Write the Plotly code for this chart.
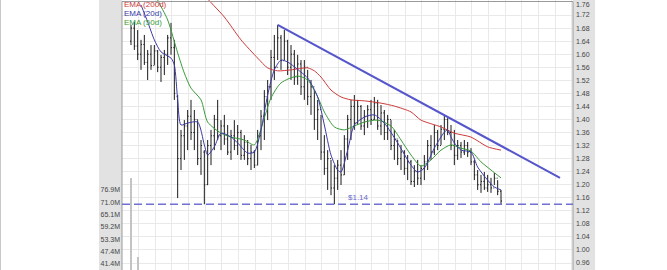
import plotly.graph_objects as go

# ---- price bars (daily) ----
bar_idx = list(range(112))
high = [1.690,1.699,1.674,1.644,1.659,1.613,1.628,1.628,1.613,1.598,
        1.613,1.659,1.696,1.644,1.475,1.368,1.398,1.429,1.460,1.429,
        1.398,1.337,1.306,1.337,1.368,1.414,1.460,1.398,1.414,1.383,
        1.368,1.398,1.383,1.368,1.352,1.337,1.322,1.306,1.368,1.429,
        1.490,1.521,1.613,1.659,1.690,1.659,1.674,1.644,1.628,1.613,
        1.598,1.582,1.582,1.552,1.521,1.490,1.460,1.414,1.352,1.306,
        1.276,1.260,1.276,1.306,1.352,1.414,1.460,1.475,1.460,1.444,
        1.429,1.444,1.460,1.469,1.460,1.444,1.429,1.414,1.398,1.368,
        1.337,1.322,1.306,1.291,1.276,1.260,1.276,1.260,1.291,1.337,
        1.352,1.383,1.368,1.383,1.414,1.404,1.383,1.368,1.337,1.331,
        1.337,1.331,1.312,1.276,1.245,1.230,1.239,1.230,1.221,1.236,
        1.214,1.184]
low = [1.628,1.613,1.582,1.552,1.567,1.521,1.552,1.567,1.545,1.515,
       1.536,1.567,1.598,1.460,1.159,1.245,1.276,1.306,1.337,1.306,
       1.260,1.230,1.140,1.199,1.260,1.306,1.337,1.306,1.322,1.291,
       1.276,1.306,1.291,1.276,1.276,1.260,1.245,1.251,1.260,1.306,
       1.337,1.398,1.460,1.521,1.582,1.552,1.582,1.536,1.521,1.506,
       1.506,1.475,1.460,1.444,1.414,1.368,1.337,1.276,1.230,1.184,
       1.168,1.140,1.184,1.199,1.230,1.276,1.337,1.368,1.383,1.368,
       1.352,1.374,1.383,1.398,1.368,1.352,1.337,1.337,1.306,1.276,
       1.260,1.245,1.230,1.214,1.199,1.193,1.199,1.199,1.214,1.245,
       1.276,1.291,1.306,1.322,1.337,1.352,1.306,1.260,1.276,1.282,
       1.291,1.285,1.260,1.214,1.184,1.175,1.184,1.178,1.175,1.199,
       1.168,1.140]
open_ = [1.640,1.680,1.625,1.600,1.630,1.575,1.600,1.565,1.610,1.560,
         1.590,1.600,1.650,1.620,1.470,1.280,1.350,1.380,1.410,1.360,
         1.400,1.280,1.300,1.200,1.320,1.350,1.400,1.350,1.380,1.340,
         1.300,1.350,1.320,1.360,1.290,1.330,1.280,1.300,1.260,1.350,
         1.410,1.470,1.500,1.590,1.560,1.650,1.580,1.640,1.560,1.600,
         1.530,1.570,1.500,1.560,1.470,1.500,1.400,1.430,1.300,1.250,
         1.280,1.190,1.220,1.260,1.230,1.340,1.400,1.440,1.390,1.440,
         1.380,1.410,1.430,1.400,1.450,1.380,1.420,1.360,1.400,1.320,
         1.340,1.280,1.300,1.250,1.270,1.210,1.240,1.220,1.250,1.270,
         1.320,1.300,1.360,1.320,1.370,1.400,1.360,1.320,1.290,1.320,
         1.300,1.320,1.300,1.270,1.230,1.200,1.210,1.190,1.200,1.190,
         1.220,1.180]
close = [1.680,1.625,1.600,1.630,1.575,1.600,1.565,1.610,1.560,1.590,
         1.600,1.650,1.620,1.480,1.280,1.350,1.380,1.410,1.360,1.400,
         1.280,1.320,1.200,1.320,1.350,1.400,1.350,1.380,1.340,1.300,
         1.350,1.320,1.360,1.290,1.330,1.280,1.300,1.260,1.350,1.410,
         1.470,1.500,1.590,1.560,1.650,1.580,1.640,1.560,1.600,1.530,
         1.570,1.500,1.560,1.470,1.500,1.400,1.430,1.300,1.250,1.280,
         1.190,1.220,1.260,1.230,1.340,1.400,1.440,1.390,1.440,1.380,
         1.410,1.430,1.400,1.450,1.380,1.420,1.360,1.400,1.320,1.340,
         1.280,1.300,1.250,1.270,1.210,1.240,1.220,1.250,1.270,1.320,
         1.300,1.360,1.320,1.370,1.400,1.360,1.320,1.290,1.320,1.300,
         1.320,1.300,1.270,1.230,1.200,1.210,1.190,1.200,1.190,1.220,
         1.180,1.150]

# ---- moving averages ----
ema200_idx = [20,22,28,33,38,41,44,48,53,55,57,60,63,66,70,75,79,84,87,93,97,102,107,111]
ema200 = [1.812,1.781,1.714,1.644,1.588,1.558,1.549,1.552,1.558,1.549,1.530,1.490,
          1.469,1.460,1.457,1.450,1.441,1.423,1.398,1.377,1.358,1.346,1.316,1.306]
ema20_idx = [3,5,7,9,12,13,14,15,17,20,22,23,25,27,30,32,35,37,39,41,43,45,47,51,53,
             56,58,60,62,63,65,67,70,73,76,80,84,86,88,91,94,95,96,97,99,102,104,107,109,111]
ema20 = [1.751,1.699,1.644,1.607,1.588,1.567,1.460,1.383,1.389,1.392,1.322,1.291,1.316,
         1.358,1.346,1.328,1.297,1.300,1.368,1.475,1.552,1.582,1.576,1.545,1.527,
         1.469,1.383,1.291,1.245,1.239,1.306,1.383,1.407,1.414,1.389,1.328,1.260,1.239,
         1.251,1.312,1.361,1.368,1.346,1.328,1.306,1.300,1.254,1.214,1.193,1.184]
ema50_idx = [6,8,11,14,16,18,21,23,27,30,34,37,40,42,45,50,53,56,58,61,64,67,70,74,78,
             81,84,87,90,93,96,99,102,105,108,111]
ema50 = [1.812,1.766,1.705,1.604,1.542,1.496,1.460,1.392,1.358,1.346,1.337,1.322,1.405,
         1.466,1.512,1.533,1.521,1.469,1.423,1.377,1.368,1.380,1.392,1.398,1.380,
         1.337,1.291,1.257,1.276,1.306,1.322,1.312,1.303,1.270,1.245,1.221]

# ---- trend line and support ----
trend_x = [44, 128.7]
trend_y = [1.690, 1.221]
support = 1.14
support_label = "$1.14"

# ---- price axis ticks ----
price_ticks = [0.96, 1.00, 1.04, 1.08, 1.12, 1.16, 1.20, 1.24, 1.28, 1.32, 1.36,
               1.40, 1.44, 1.48, 1.52, 1.56, 1.60, 1.64, 1.68, 1.72, 1.76]

# ---- volume (only the bars that reach the visible area) ----
vol_idx = [0, 2]
volume = [82.7e6, 44.8e6]
vol_tickvals = [41.4e6, 47.4e6, 53.3e6, 59.2e6, 65.1e6, 71.0e6, 76.9e6]
vol_ticktext = ["41.4M", "47.4M", "53.3M", "59.2M", "65.1M", "71.0M", "76.9M"]

legend_items = [("EMA (200d)", "#cc3a3a"), ("EMA (20d)", "#3a3aa8"), ("EMA (50d)", "#3a9a3a")]

W, H = 667, 270
L, R = 122, 94
PW = W - L - R

fig = go.Figure()

fig.add_trace(go.Bar(x=vol_idx, y=volume, yaxis="y2", width=0.35,
                     marker=dict(color="#c4c4c4", line=dict(width=0)),
                     hoverinfo="skip", showlegend=False))

fig.add_trace(go.Ohlc(x=bar_idx, open=open_, high=high, low=low, close=close,
                      increasing=dict(line=dict(color="#1a1a1a", width=1)),
                      decreasing=dict(line=dict(color="#1a1a1a", width=1)),
                      tickwidth=0.3, hoverinfo="skip", showlegend=False))

fig.add_trace(go.Scatter(x=ema200_idx, y=ema200, mode="lines",
                         line=dict(color="#cc3a3a", width=1, shape="spline", smoothing=0.7),
                         hoverinfo="skip", showlegend=False))
fig.add_trace(go.Scatter(x=ema50_idx, y=ema50, mode="lines",
                         line=dict(color="#3a9a3a", width=1, shape="spline", smoothing=0.7),
                         hoverinfo="skip", showlegend=False))
fig.add_trace(go.Scatter(x=ema20_idx, y=ema20, mode="lines",
                         line=dict(color="#3a3aa8", width=1, shape="spline", smoothing=0.7),
                         hoverinfo="skip", showlegend=False))

fig.add_trace(go.Scatter(x=trend_x, y=trend_y, mode="lines",
                         line=dict(color="#5555cc", width=2),
                         hoverinfo="skip", showlegend=False))

shapes = [
    dict(type="rect", xref="paper", yref="paper", x0=(99 - L) / PW, x1=0, y0=0, y1=1,
         fillcolor="#e2e2e2", line=dict(width=0), layer="below"),
    dict(type="rect", xref="paper", yref="paper", x0=1, x1=1 + 22 / PW, y0=0, y1=1,
         fillcolor="#e2e2e2", line=dict(width=0), layer="below"),
    dict(type="rect", xref="paper", yref="paper", x0=0, x1=1, y0=-0.01, y1=1 - 1.5 / H,
         line=dict(color="#9a9a9a", width=1)),
    dict(type="line", xref="paper", yref="paper", x0=(0.5 - L) / PW, x1=(0.5 - L) / PW,
         y0=0, y1=1, line=dict(color="#c8c8c8", width=1)),
    dict(type="line", xref="paper", yref="y", x0=0, x1=1, y0=support, y1=support,
         line=dict(color="#7070d0", width=1.5, dash="8px,4px")),
]

annotations = [
    dict(text=support_label, xref="x", yref="y", x=64.5, y=support, xanchor="left",
         yanchor="bottom", yshift=0, showarrow=False,
         font=dict(family="Liberation Sans, Arial", size=8, color="#6a6acc")),
    dict(text="1.76", xref="paper", yref="paper", x=1, xshift=2, y=1, xanchor="left",
         yanchor="top", showarrow=False, borderpad=0,
         font=dict(family="Liberation Sans, Arial", size=7, color="#444")),
]
for k, (txt, col) in enumerate(legend_items):
    annotations.append(dict(text=txt, xref="paper", yref="paper", x=0, xshift=0,
                            y=1 - (5 + 9 * k) / H, xanchor="left", yanchor="middle",
                            showarrow=False,
                            font=dict(family="Liberation Sans, Arial", size=8, color=col)))

fig.update_layout(
    width=W, height=H, autosize=False,
    margin=dict(l=L, r=R, t=0, b=0, pad=0),
    paper_bgcolor="white", plot_bgcolor="white",
    showlegend=False, bargap=0,
    xaxis=dict(range=[-2.7, 132.6], showgrid=True, gridcolor="#e9e9e9", gridwidth=1,
               tick0=2.2, dtick=5, showticklabels=False, zeroline=False, showline=False,
               ticks="", rangeslider=dict(visible=False), fixedrange=True),
    yaxis=dict(side="right", range=[0.9386, 1.7661], tickvals=price_ticks[:-1],
               tickformat=".2f", showgrid=True, gridcolor="#e9e9e9", zeroline=False,
               ticks="", ticklabelstandoff=2, showline=False,
               tickfont=dict(family="Liberation Sans, Arial", size=7, color="#444")),
    yaxis2=dict(overlaying="y", side="left", range=[38.52e6, 168.05e6],
                tickvals=vol_tickvals, ticktext=vol_ticktext, showgrid=False,
                zeroline=False, ticks="", ticklabelstandoff=1, showline=False,
                tickfont=dict(family="Liberation Sans, Arial", size=7, color="#444")),
    shapes=shapes, annotations=annotations,
)

fig.write_html("out.html")
